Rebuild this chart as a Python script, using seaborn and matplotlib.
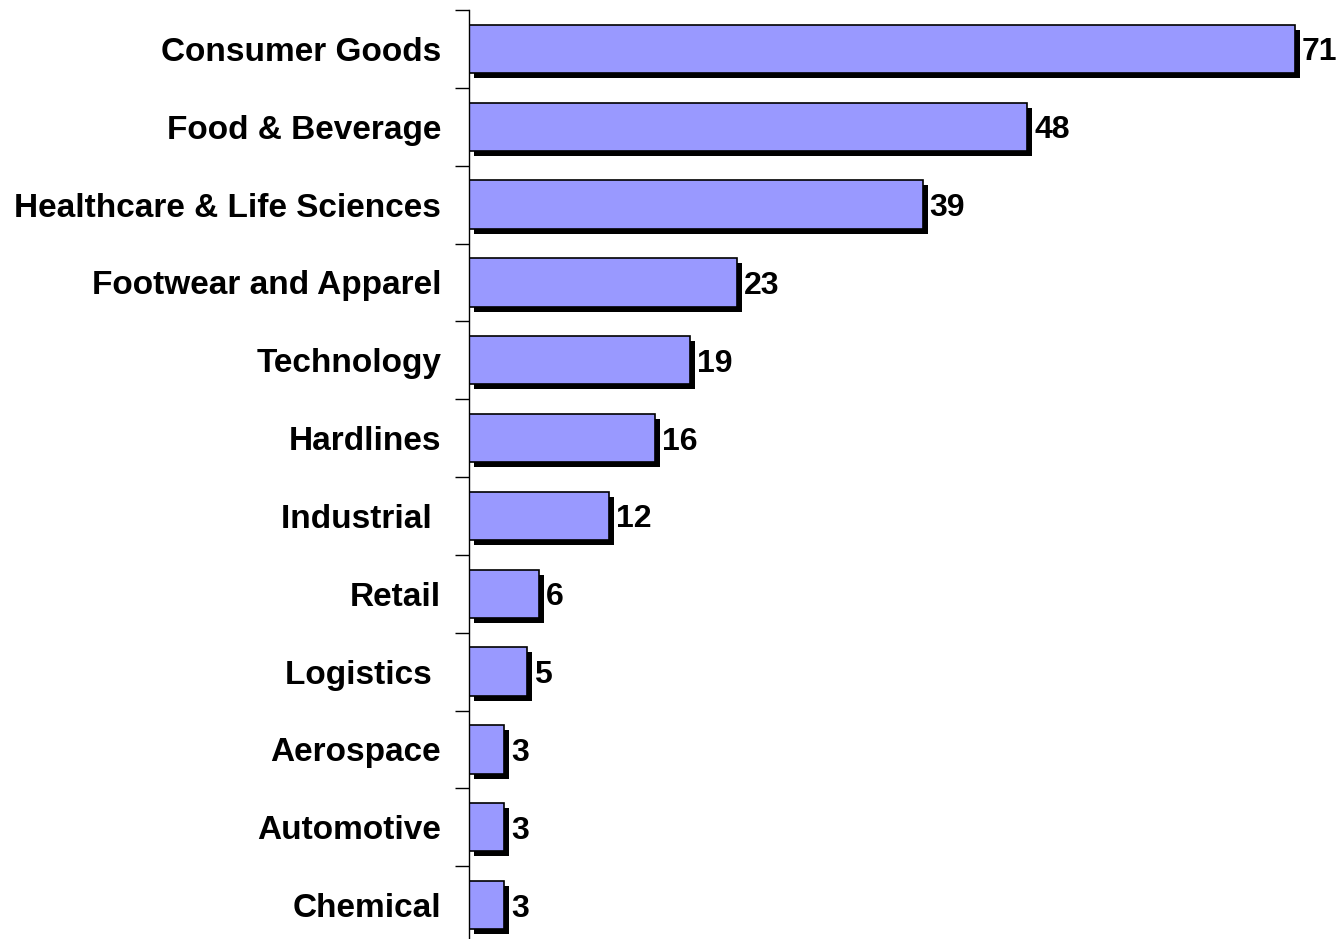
import matplotlib
matplotlib.use("Agg")
import matplotlib.pyplot as plt
import matplotlib.patheffects as pe
import pandas as pd
import seaborn as sns

categories = [
    "Consumer Goods",
    "Food & Beverage",
    "Healthcare & Life Sciences",
    "Footwear and Apparel",
    "Technology",
    "Hardlines",
    "Industrial ",
    "Retail",
    "Logistics ",
    "Aerospace",
    "Automotive",
    "Chemical",
]
counts = [71, 48, 39, 23, 19, 16, 12, 6, 5, 3, 3, 3]

df = pd.DataFrame({"category": categories, "count": counts})

sns.set_theme(style="white")
plt.rcParams["font.family"] = ["Liberation Sans", "DejaVu Sans"]

fig = plt.figure(figsize=(13.4, 9.39), dpi=100)
ax = fig.add_axes([469 / 1340, 1 - 944 / 939, 861 / 1340, 934 / 939])

sns.barplot(data=df, y="category", x="count", orient="h", ax=ax,
            color="#9999FF", saturation=1, width=0.62,
            edgecolor="#000000", linewidth=1.2)

shadow = [pe.SimplePatchShadow(offset=(3.6, -3.6), shadow_rgbFace="black", alpha=1.0),
          pe.Normal()]
for bar in ax.patches:
    bar.set_path_effects(shadow)

for cont in ax.containers:
    txts = ax.bar_label(cont, labels=[str(v) for v in counts], padding=5,
                        fontsize=23, fontweight="bold", color="black")
    for t in txts:
        t.set_va("center_baseline")

ax.set_xlim(0, 74)
ax.set_ylim(len(categories) - 0.5, -0.5)
ax.set_xlabel("")
ax.set_ylabel("")
ax.set_xticks([])

# ticks sit between categories, labels at category centres
ax.set_yticks([i - 0.5 for i in range(len(categories) + 1)], minor=True)
ax.tick_params(axis="y", which="minor", left=True, length=10, width=1,
               color="black", direction="out")
ax.tick_params(axis="y", which="major", left=True, length=0, pad=20)
for lbl in ax.get_yticklabels():
    lbl.set_fontsize(24)
    lbl.set_fontweight("bold")
    lbl.set_color("black")

for side in ["top", "right", "bottom"]:
    ax.spines[side].set_visible(False)
ax.spines["left"].set_color("black")
ax.spines["left"].set_linewidth(1)

fig.savefig("out.png", dpi=100)
